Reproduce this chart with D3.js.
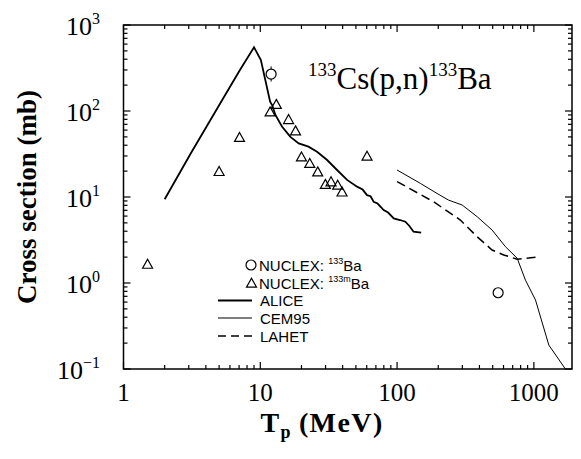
<!DOCTYPE html>
<html><head><meta charset="utf-8">
<script src="https://cdn.jsdelivr.net/npm/d3@7"></script>
<style>body{margin:0;background:#fff}svg{display:block}</style>
</head><body><svg id="c" width="581" height="459"></svg>
<script>
// ---- data ----
const aliceE = [2.0, 3.1, 5.1, 7.1, 9.0, 10.1, 11.8, 12.2, 12.9, 14.4, 16.6, 19.1, 22.5, 26.0, 30.8, 36.4, 43.1, 51, 56, 60.3, 64, 67.4, 72, 79.8, 86, 94.5, 105, 115, 123, 132, 150];
const aliceS = [9.4, 32, 123, 300, 551, 392, 128, 117, 90, 66, 50, 42, 38.5, 33.6, 26.9, 20.6, 15.8, 13.2, 12.2, 10.5, 10.2, 8.8, 8.4, 7.06, 6.6, 5.65, 5.4, 5.16, 4.6, 3.95, 3.85];
const cemE = [100, 148, 196, 238, 299, 385, 495, 620, 755, 868, 1028, 1286, 1700];
const cemS = [20.6, 14.4, 11.0, 9.2, 8.07, 5.9, 4.13, 2.64, 1.94, 1.08, 0.634, 0.19, 0.1];
const lahetE = [100, 185, 290, 385, 495, 602, 755, 1028];
const lahetS = [15.1, 8.8, 5.4, 3.45, 2.42, 2.12, 1.89, 1.99];
const ba133E = [12.0, 548];
const ba133S = [269, 0.77];
const ba133Lo = [220, 0.77];
const ba133Hi = [330, 0.77];
const ba133mE = [1.5, 5.0, 7.05, 11.8, 13.1, 16.1, 18.1, 20, 23, 26.3, 29.9, 32.9, 36.8, 39.6, 60.3];
const ba133mS = [1.66, 19.9, 49.5, 98, 120, 80, 59, 29.4, 24.7, 19.7, 14.1, 15.1, 13.8, 11.5, 30];
const xTicks = [1, 10, 100, 1000];
const xTickLabels = ["1", "10", "100", "1000"];
const yTicks = [0.1, 1, 10, 100, 1000];
const yTickExp = ["\u22121", "0", "1", "2", "3"];
const legendLabels = ["ALICE", "CEM95", "LAHET"];

// ---- layout ----
const svg = d3.select("#c");
const L = 123.5, R = 572, T = 25, B = 369;
const x = d3.scaleLog().domain([1, 1900]).range([L, R]);
const y = d3.scaleLog().domain([0.1, 1000]).range([B, T]);
const serif = "'Liberation Serif','Times New Roman',serif";
const sans = "'Liberation Sans',Arial,sans-serif";

// minor ticks
const xMinor = [], yMinor = [];
for (let d = 1; d <= 1000; d *= 10) for (let k = 2; k <= 9; k++) { if (d * k <= 1900) xMinor.push(d * k); }
for (let d = 0.1; d < 1000; d *= 10) for (let k = 2; k <= 9; k++) yMinor.push(d * k);

const ax = svg.append("g").attr("stroke", "#000").attr("stroke-width", 1.2);
const majLen = 7, minLen = 4;
xTicks.forEach(v => {
  ax.append("line").attr("x1", x(v)).attr("x2", x(v)).attr("y1", B).attr("y2", B - majLen);
  ax.append("line").attr("x1", x(v)).attr("x2", x(v)).attr("y1", T).attr("y2", T + majLen);
});
xMinor.forEach(v => {
  ax.append("line").attr("x1", x(v)).attr("x2", x(v)).attr("y1", B).attr("y2", B - minLen);
  ax.append("line").attr("x1", x(v)).attr("x2", x(v)).attr("y1", T).attr("y2", T + minLen);
});
yTicks.forEach(v => {
  ax.append("line").attr("y1", y(v)).attr("y2", y(v)).attr("x1", L).attr("x2", L + majLen);
  ax.append("line").attr("y1", y(v)).attr("y2", y(v)).attr("x1", R).attr("x2", R - majLen);
});
yMinor.forEach(v => {
  ax.append("line").attr("y1", y(v)).attr("y2", y(v)).attr("x1", L).attr("x2", L + minLen);
  ax.append("line").attr("y1", y(v)).attr("y2", y(v)).attr("x1", R).attr("x2", R - minLen);
});
svg.append("rect").attr("x", L).attr("y", T).attr("width", R - L).attr("height", B - T)
  .attr("fill", "none").attr("stroke", "#000").attr("stroke-width", 1.5);

// tick labels
svg.append("g").selectAll("text").data(xTicks).join("text")
  .attr("x", d => x(d)).attr("y", 401).attr("text-anchor", "middle")
  .attr("font-family", serif).attr("font-size", 25).text((d, i) => xTickLabels[i]);
const yl = svg.append("g").selectAll("text").data(yTicks).join("text")
  .attr("x", 100).attr("y", d => y(d) + 10).attr("text-anchor", "end")
  .attr("font-family", serif).attr("font-size", 26);
yl.append("tspan").text("10");
yl.append("tspan").attr("font-size", 16).attr("dy", -11).text((d, i) => yTickExp[i]);

// axis titles
const xt = svg.append("text").attr("x", 322).attr("y", 432).attr("text-anchor", "middle")
  .attr("font-family", serif).attr("font-weight", "bold").attr("font-size", 28)
  .attr("letter-spacing", 1.4);
xt.append("tspan").text("T");
xt.append("tspan").attr("font-size", 18).attr("dy", 6).text("p");
xt.append("tspan").attr("dy", -6).attr("dx", 7).text("(MeV)");
svg.append("text").attr("transform", "translate(36,197) rotate(-90)").attr("text-anchor", "middle")
  .attr("font-family", serif).attr("font-weight", "bold").attr("font-size", 27).text("Cross section (mb)");

// title
const tt = svg.append("text").attr("x", 308).attr("y", 89).attr("font-family", serif).attr("font-size", 31);
tt.append("tspan").attr("font-size", 19).attr("dy", -13).text("133");
tt.append("tspan").attr("dy", 13).text("Cs(p,n)");
tt.append("tspan").attr("font-size", 19).attr("dy", -13).text("133");
tt.append("tspan").attr("dy", 13).text("Ba");

// lines
const line = d3.line().x(d => x(d[0])).y(d => y(d[1]));
const plot = svg.append("g");
plot.append("path").attr("d", line(d3.zip(aliceE, aliceS))).attr("fill", "none").attr("stroke", "#000").attr("stroke-width", 1.8);
plot.append("path").attr("d", line(d3.zip(cemE, cemS))).attr("fill", "none").attr("stroke", "#000").attr("stroke-width", 1);
plot.append("path").attr("d", line(d3.zip(lahetE, lahetS))).attr("fill", "none").attr("stroke", "#000").attr("stroke-width", 1.5).attr("stroke-dasharray", "9,5");

// circles with error bar
ba133E.forEach((e, i) => {
  plot.append("line").attr("x1", x(e)).attr("x2", x(e)).attr("y1", y(ba133Lo[i])).attr("y2", y(ba133Hi[i])).attr("stroke", "#000").attr("stroke-width", 1);
});
plot.selectAll("circle.b").data(d3.zip(ba133E, ba133S)).join("circle")
  .attr("cx", d => x(d[0])).attr("cy", d => y(d[1])).attr("r", 5)
  .attr("fill", "#fff").attr("stroke", "#000").attr("stroke-width", 1.2);
const tri = "M0,-4.8L5,4.2L-5,4.2Z";
plot.selectAll("path.t").data(d3.zip(ba133mE, ba133mS)).join("path")
  .attr("d", tri).attr("transform", d => `translate(${x(d[0])},${y(d[1])})`)
  .attr("fill", "none").attr("stroke", "#000").attr("stroke-width", 1.2);

// legend
const lg = svg.append("g").attr("font-family", sans).attr("font-size", 15);
const rowY = [265, 283, 300.5, 318, 336];
lg.append("circle").attr("cx", 251).attr("cy", rowY[0]).attr("r", 5).attr("fill", "none").attr("stroke", "#000").attr("stroke-width", 1.2);
lg.append("path").attr("d", tri).attr("transform", `translate(251.5,${rowY[1]})`).attr("fill", "none").attr("stroke", "#000").attr("stroke-width", 1.2);
const t1 = lg.append("text").attr("x", 259).attr("y", rowY[0] + 5.5);
t1.append("tspan").text("NUCLEX: ");
t1.append("tspan").attr("font-size", 9).attr("dy", -7).text("133");
t1.append("tspan").attr("dy", 7).text("Ba");
const t2 = lg.append("text").attr("x", 259).attr("y", rowY[1] + 5.5);
t2.append("tspan").text("NUCLEX: ");
t2.append("tspan").attr("font-size", 9).attr("dy", -7).text("133m");
t2.append("tspan").attr("dy", 7).text("Ba");
const styles = [{w: 1.8, d: null}, {w: 1, d: null}, {w: 1.5, d: "8,5"}];
legendLabels.forEach((lab, i) => {
  const yy = rowY[i + 2];
  lg.append("line").attr("x1", 218).attr("x2", 252).attr("y1", yy).attr("y2", yy)
    .attr("stroke", "#000").attr("stroke-width", styles[i].w).attr("stroke-dasharray", styles[i].d);
  lg.append("text").attr("x", 260).attr("y", yy + 5.5).text(lab);
});
</script></body></html>
